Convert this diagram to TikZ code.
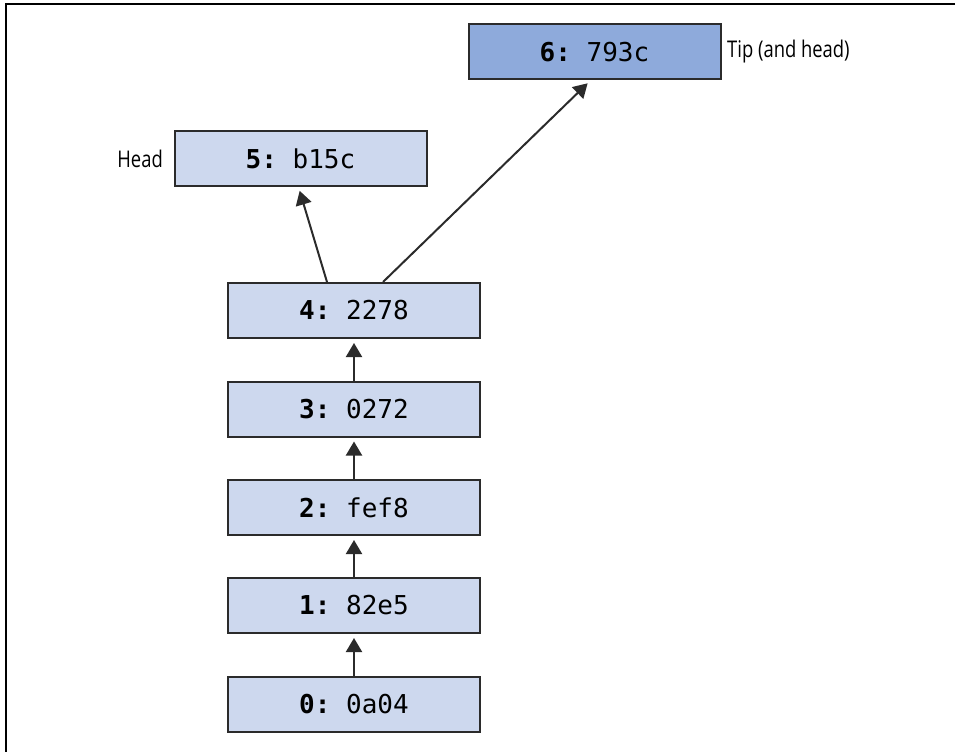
\documentclass[tikz,border=0pt]{standalone}
\usepackage{fontspec}
\setmainfont[FakeStretch=0.8]{Open Sans}
\setmonofont{DejaVu Sans Mono}
\usetikzlibrary{arrows.meta}
\definecolor{boxlight}{HTML}{CDD8EE}
\definecolor{boxdark}{HTML}{8EAADB}
\definecolor{edge}{HTML}{2B2B2B}
\tikzset{
  commit/.style={draw=edge, line width=2pt, fill=boxlight, minimum width=252pt,
    minimum height=55pt, inner sep=0pt, font=\ttfamily\fontsize{26}{30}\selectfont},
  tipcommit/.style={commit, fill=boxdark},
  arr/.style={draw=edge, line width=2pt, -{Triangle[length=14pt,width=16pt]}, shorten >=4pt},
  side/.style={font=\fontsize{23}{28}\selectfont, inner sep=0pt, text=black}
}
\begin{document}
\begin{tikzpicture}[x=1pt,y=-1pt]
\useasboundingbox (0,0) rectangle (959,752);
\draw[line width=2pt, black] (955,4) -- (6,4) -- (6,752);
\node[tipcommit] (b6) at (594.5,52) {\textbf{6:} 793c};
\node[commit] (b5) at (300.5,158.5) {\textbf{5:} b15c};
\node[commit] (b4) at (354,310.5) {\textbf{4:} 2278};
\node[commit] (b3) at (354,409) {\textbf{3:} 0272};
\node[commit] (b2) at (354,507.5) {\textbf{2:} fef8};
\node[commit] (b1) at (354,605.5) {\textbf{1:} 82e5};
\node[commit] (b0) at (354,704.5) {\textbf{0:} 0a04};
\node[side, anchor=west] (tip) at (727,52) {Tip (and head)};
\node[side, anchor=east] (head) at (163,158.5) {Head};
\draw[arr] (b0.north) -- (b1.south);
\draw[arr] (b1.north) -- (b2.south);
\draw[arr] (b2.north) -- (b3.south);
\draw[arr] (b3.north) -- (b4.south);
\draw[arr] ([xshift=-27pt]b4.north) -- ([xshift=-2pt]b5.south);
\draw[arr] ([xshift=29pt]b4.north) -- ([xshift=-4pt]b6.south);
\end{tikzpicture}
\end{document}
